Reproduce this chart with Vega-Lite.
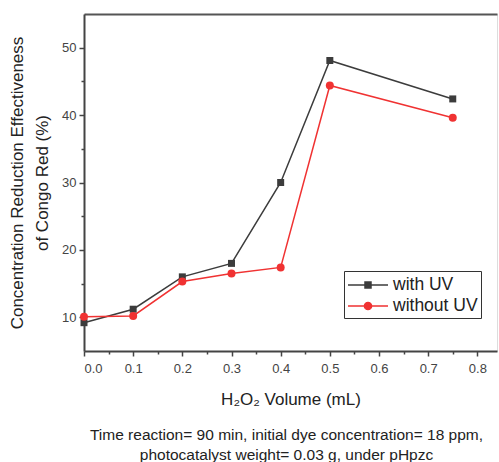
{
  "$schema": "https://vega.github.io/schema/vega-lite/v6.json",
  "autosize": "none",
  "width": 413,
  "height": 337,
  "padding": {"left": 84, "top": 14, "right": 2, "bottom": 111},
  "background": "white",
  "config": {
    "font": "Liberation Sans",
    "view": {"stroke": "#dddddd", "strokeWidth": 1},
    "axis": {"labelFont": "Liberation Sans", "titleFont": "Liberation Sans", "labelColor": "#444444", "titleColor": "#222222", "labelFontSize": 13, "titleFontSize": 17, "titleFontWeight": "normal", "grid": false, "domainColor": "#444444", "domainWidth": 2, "tickColor": "#444444", "tickWidth": 1.5}
  },
  "title": {
    "text": ["Time reaction= 90 min, initial dye concentration= 18 ppm,", "photocatalyst weight= 0.03 g, under pHpzc"],
    "orient": "bottom",
    "anchor": "middle",
    "fontSize": 15.5,
    "fontWeight": "normal",
    "color": "#222222",
    "font": "Liberation Sans",
    "offset": 21,
    "lineHeight": 20,
    "dx": -4
  },
  "data": {
    "values": [
      {"v": 0.0, "y": 9.2, "s": "with UV"},
      {"v": 0.1, "y": 11.2, "s": "with UV"},
      {"v": 0.2, "y": 16.0, "s": "with UV"},
      {"v": 0.3, "y": 18.0, "s": "with UV"},
      {"v": 0.4, "y": 30.0, "s": "with UV"},
      {"v": 0.5, "y": 48.1, "s": "with UV"},
      {"v": 0.75, "y": 42.4, "s": "with UV"},
      {"v": 0.0, "y": 10.1, "s": "without UV"},
      {"v": 0.1, "y": 10.2, "s": "without UV"},
      {"v": 0.2, "y": 15.3, "s": "without UV"},
      {"v": 0.3, "y": 16.5, "s": "without UV"},
      {"v": 0.4, "y": 17.4, "s": "without UV"},
      {"v": 0.5, "y": 44.4, "s": "without UV"},
      {"v": 0.75, "y": 39.6, "s": "without UV"}
    ]
  },
  "layer": [
    {
      "mark": {"type": "line", "strokeWidth": 1.5},
      "encoding": {
        "x": {
          "field": "v", "type": "quantitative",
          "scale": {"domain": [0, 0.84], "nice": false, "zero": false},
          "axis": {
            "title": "H₂O₂ Volume (mL)",
            "values": [0, 0.05, 0.1, 0.15, 0.2, 0.25, 0.3, 0.35, 0.4, 0.45, 0.5, 0.55, 0.6, 0.65, 0.7, 0.75, 0.8],
            "labelExpr": "round(datum.value*100) % 10 === 0 ? format(datum.value, '.1f') : ''",
            "labelOverlap": false,
            "tickSize": {"condition": {"test": "round(datum.value*100) % 10 === 0", "value": 5}, "value": 3},
            "labelPadding": 6,
            "titlePadding": 16
          }
        },
        "y": {
          "field": "y", "type": "quantitative",
          "scale": {"domain": [5, 55], "nice": false, "zero": false},
          "axis": {
            "title": ["Concentration Reduction Effectiveness", "of Congo Red (%)"],
            "values": [10, 15, 20, 25, 30, 35, 40, 45, 50],
            "labelExpr": "datum.value % 10 === 0 ? datum.label : ''",
            "labelOverlap": false,
            "tickSize": {"condition": {"test": "datum.value % 10 === 0", "value": 5}, "value": 3},
            "labelPadding": 3,
            "titlePadding": 10,
            "titleLineHeight": 25
          }
        },
        "color": {
          "field": "s", "type": "nominal",
          "scale": {"domain": ["with UV", "without UV"], "range": ["#3c3c3c", "#f03232"]},
          "legend": {
            "orient": "none",
            "legendX": 260,
            "legendY": 257,
            "title": null,
            "strokeColor": "#333333",
            "fillColor": "white",
            "padding": 3,
            "labelFontSize": 17.5,
            "labelFont": "Liberation Sans",
            "labelColor": "#222222",
            "labelOffset": 24,
            "rowPadding": 1,
            "symbolSize": 400,
            "symbolStrokeWidth": 1.5,
            "encode": {
              "symbols": {
                "update": {
                  "shape": {"signal": "datum.value === 'with UV' ? 'M-1,0H3M0.7,-0.3H1.3V0.3H0.7Z' : 'M-1,0H3M1.36,0A0.36,0.36 0 1 1 0.64,0A0.36,0.36 0 1 1 1.36,0Z'"},
                  "fill": {"scale": "color", "field": "value"},
                  "stroke": {"scale": "color", "field": "value"}
                }
              }
            }
          }
        }
      }
    },
    {
      "transform": [{"filter": "datum.s === 'with UV'"}],
      "mark": {"type": "point", "filled": true, "opacity": 1, "shape": "square", "size": 49},
      "encoding": {
        "x": {
          "field": "v", "type": "quantitative",
          "axis": {"orient": "top", "labels": false, "ticks": false, "title": null, "domainColor": "#555555", "domainWidth": 2}
        },
        "y": {"field": "y", "type": "quantitative"},
        "color": {"field": "s", "type": "nominal"}
      }
    },
    {
      "transform": [{"filter": "datum.s === 'without UV'"}],
      "mark": {"type": "point", "filled": true, "opacity": 1, "shape": "circle", "size": 64},
      "encoding": {
        "x": {"field": "v", "type": "quantitative", "axis": null},
        "y": {"field": "y", "type": "quantitative"},
        "color": {"field": "s", "type": "nominal"}
      }
    }
  ],
  "resolve": {"axis": {"x": "independent"}}
}
